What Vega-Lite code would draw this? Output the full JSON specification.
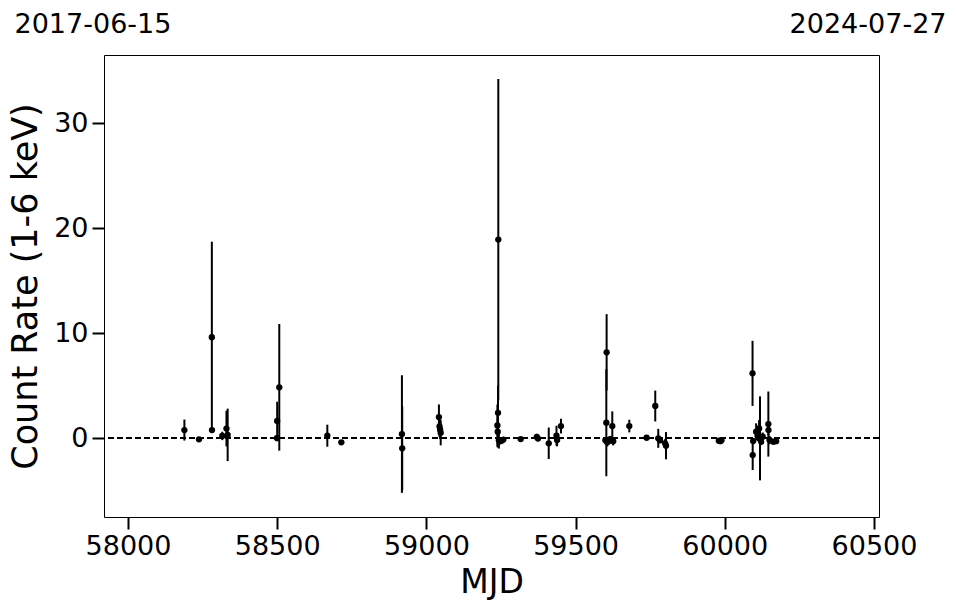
{
  "$schema": "https://vega.github.io/schema/vega-lite/v6.json",
  "width": 775,
  "height": 462,
  "autosize": {"type": "none"},
  "padding": {"left": 104, "top": 55, "right": 78, "bottom": 96},
  "background": "white",
  "config": {
    "view": {"stroke": "black", "strokeWidth": 1},
    "axis": {
      "domain": false,
      "grid": false,
      "tickColor": "black",
      "tickWidth": 2,
      "tickSize": 12,
      "labelFont": "DejaVu Sans",
      "labelFontSize": 27,
      "labelColor": "black",
      "labelPadding": 4,
      "titleFont": "DejaVu Sans",
      "titleFontSize": 33,
      "titleFontWeight": "normal",
      "titleColor": "black"
    }
  },
  "data": {
    "values": [
      {"mjd": 58189, "rate": 0.76, "err": 1.0},
      {"mjd": 58238, "rate": -0.12, "err": 0.1},
      {"mjd": 58281, "rate": 9.6, "err": 9.1},
      {"mjd": 58281.5, "rate": 0.76, "err": 0.2},
      {"mjd": 58316, "rate": 0.2, "err": 0.4},
      {"mjd": 58330, "rate": 0.9, "err": 1.7},
      {"mjd": 58334, "rate": 0.3, "err": 2.5},
      {"mjd": 58499, "rate": 0.0, "err": 0.3},
      {"mjd": 58500, "rate": 1.62, "err": 1.84},
      {"mjd": 58507, "rate": 4.83, "err": 6.03},
      {"mjd": 58668, "rate": 0.22, "err": 1.05},
      {"mjd": 58715, "rate": -0.41, "err": 0.1},
      {"mjd": 58918, "rate": 0.38, "err": 5.6},
      {"mjd": 58919, "rate": -0.98, "err": 4.0},
      {"mjd": 59042, "rate": 2.0, "err": 1.2},
      {"mjd": 59044, "rate": 1.1, "err": 1.0},
      {"mjd": 59046, "rate": 0.8, "err": 0.9},
      {"mjd": 59048, "rate": 0.5, "err": 1.2},
      {"mjd": 59238, "rate": 1.2, "err": 2.0},
      {"mjd": 59239, "rate": 0.6, "err": 1.5},
      {"mjd": 59240, "rate": 2.4, "err": 2.6},
      {"mjd": 59241, "rate": 18.9, "err": 15.3},
      {"mjd": 59243, "rate": -0.2, "err": 0.8},
      {"mjd": 59247, "rate": -0.3, "err": 0.3},
      {"mjd": 59252, "rate": -0.25, "err": 0.2},
      {"mjd": 59258, "rate": -0.15, "err": 0.2},
      {"mjd": 59316, "rate": -0.1, "err": 0.1},
      {"mjd": 59370, "rate": 0.1, "err": 0.3},
      {"mjd": 59374, "rate": -0.05, "err": 0.2},
      {"mjd": 59410, "rate": -0.5, "err": 1.5},
      {"mjd": 59436, "rate": 0.22, "err": 0.95},
      {"mjd": 59438, "rate": -0.19, "err": 0.6},
      {"mjd": 59451, "rate": 1.14, "err": 0.7},
      {"mjd": 59600, "rate": -0.2, "err": 0.3},
      {"mjd": 59603, "rate": 1.46, "err": 5.1},
      {"mjd": 59604, "rate": 8.16, "err": 3.64},
      {"mjd": 59606, "rate": -0.4, "err": 0.4},
      {"mjd": 59610, "rate": -0.3, "err": 0.3},
      {"mjd": 59616, "rate": -0.1, "err": 0.3},
      {"mjd": 59623, "rate": 1.14, "err": 1.4},
      {"mjd": 59626, "rate": -0.3, "err": 0.4},
      {"mjd": 59680, "rate": 1.14, "err": 0.6},
      {"mjd": 59738, "rate": 0.03, "err": 0.1},
      {"mjd": 59767, "rate": 3.05, "err": 1.47},
      {"mjd": 59777, "rate": -0.03, "err": 0.9},
      {"mjd": 59783, "rate": -0.2, "err": 0.3},
      {"mjd": 59800, "rate": -0.5, "err": 0.4},
      {"mjd": 59803, "rate": -0.73, "err": 1.3},
      {"mjd": 59980, "rate": -0.25, "err": 0.1},
      {"mjd": 59985, "rate": -0.3, "err": 0.1},
      {"mjd": 59989, "rate": -0.2, "err": 0.1},
      {"mjd": 60093, "rate": 6.16, "err": 3.1},
      {"mjd": 60093.5, "rate": -1.62, "err": 1.43},
      {"mjd": 60095, "rate": -0.29, "err": 0.3},
      {"mjd": 60105, "rate": 0.6, "err": 0.8},
      {"mjd": 60110, "rate": 0.2, "err": 0.5},
      {"mjd": 60115, "rate": 0.92, "err": 0.8},
      {"mjd": 60118, "rate": -0.03, "err": 4.0},
      {"mjd": 60122, "rate": -0.35, "err": 0.3},
      {"mjd": 60127, "rate": 0.13, "err": 0.4},
      {"mjd": 60146, "rate": 1.33, "err": 3.1},
      {"mjd": 60146.5, "rate": 0.76, "err": 0.5},
      {"mjd": 60150, "rate": -0.19, "err": 0.4},
      {"mjd": 60163, "rate": -0.35, "err": 0.2},
      {"mjd": 60172, "rate": -0.3, "err": 0.1}
    ]
  },
  "resolve": {"axis": {"x": "independent", "y": "independent"}},
  "layer": [
    {
      "mark": {"type": "rule", "color": "black", "strokeWidth": 1.5, "strokeDash": [6, 3]},
      "encoding": {
        "y": {
          "datum": 0,
          "type": "quantitative",
          "scale": {"domain": [-7.52, 36.48], "nice": false, "zero": false},
          "axis": {
            "orient": "right",
            "labels": false,
            "ticks": false,
            "title": "2024-07-27",
            "titleAngle": 0,
            "titleAlign": "right",
            "titleBaseline": "alphabetic",
            "titleX": 67,
            "titleY": -23,
            "titleFontSize": 27
          }
        }
      }
    },
    {
      "mark": {"type": "errorbar", "color": "black", "thickness": 2},
      "encoding": {
        "x": {
          "field": "mjd",
          "type": "quantitative",
          "scale": {"domain": [57919.6, 60516.8], "nice": false, "zero": false},
          "axis": {
            "orient": "top",
            "labels": false,
            "ticks": false,
            "title": "2017-06-15",
            "titleAngle": 0,
            "titleAlign": "left",
            "titleBaseline": "alphabetic",
            "titleX": -90,
            "titleY": -23,
            "titleFontSize": 27
          }
        },
        "y": {"field": "rate", "type": "quantitative", "axis": null},
        "yError": {"field": "err"}
      }
    },
    {
      "mark": {"type": "point", "filled": true, "color": "black", "opacity": 1, "size": 40},
      "encoding": {
        "x": {
          "field": "mjd",
          "type": "quantitative",
          "scale": {"domain": [57919.6, 60516.8], "nice": false, "zero": false},
          "axis": {"orient": "bottom", "title": "MJD", "values": [58000, 58500, 59000, 59500, 60000, 60500], "format": "d", "tickSize": 12, "titlePadding": 7}
        },
        "y": {
          "field": "rate",
          "type": "quantitative",
          "axis": {"title": "Count Rate (1-6 keV)", "values": [0, 10, 20, 30], "orient": "left", "tickSize": 12, "titlePadding": 10, "titleFontSize": 35}
        }
      }
    }
  ]
}
